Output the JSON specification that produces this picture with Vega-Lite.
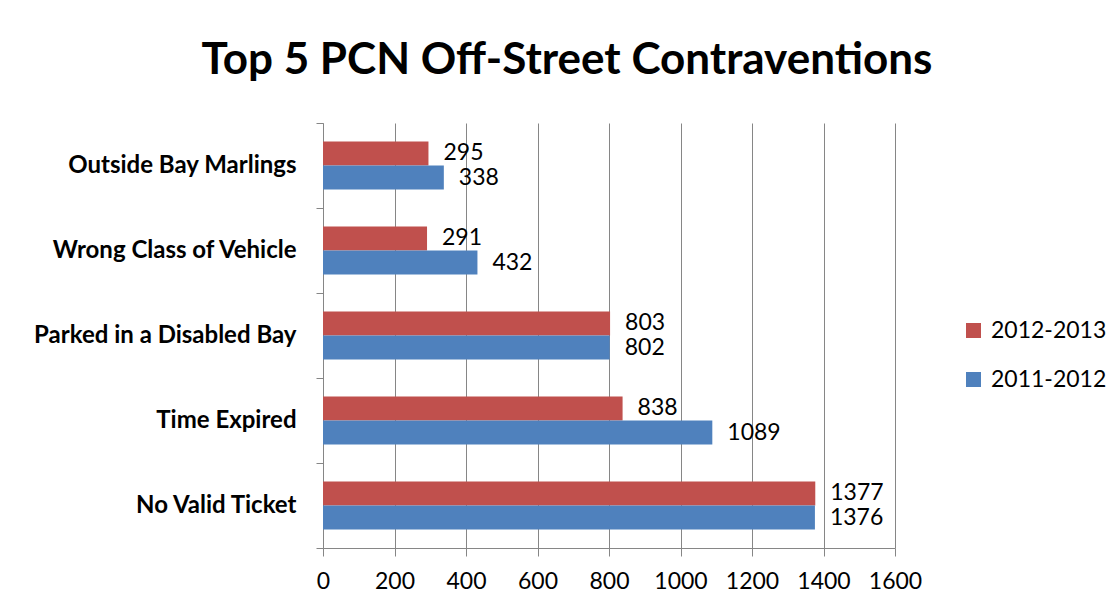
{
  "$schema": "https://vega.github.io/schema/vega-lite/v6.json",
  "width": 572,
  "height": 425,
  "autosize": {"type": "none"},
  "padding": {"left": 323, "top": 123, "right": 225, "bottom": 57},
  "background": "white",
  "title": {
    "text": "Top 5 PCN Off-Street Contraventions",
    "font": "Lato",
    "fontSize": 44,
    "fontWeight": "bold",
    "color": "black",
    "anchor": "middle",
    "frame": "group",
    "dx": -42,
    "offset": 28
  },
  "data": {
    "values": [
      {"category": "Outside Bay Marlings", "period": "2012-2013", "count": 295},
      {"category": "Outside Bay Marlings", "period": "2011-2012", "count": 338},
      {"category": "Wrong Class of Vehicle", "period": "2012-2013", "count": 291},
      {"category": "Wrong Class of Vehicle", "period": "2011-2012", "count": 432},
      {"category": "Parked in a Disabled Bay", "period": "2012-2013", "count": 803},
      {"category": "Parked in a Disabled Bay", "period": "2011-2012", "count": 802},
      {"category": "Time Expired", "period": "2012-2013", "count": 838},
      {"category": "Time Expired", "period": "2011-2012", "count": 1089},
      {"category": "No Valid Ticket", "period": "2012-2013", "count": 1377},
      {"category": "No Valid Ticket", "period": "2011-2012", "count": 1376}
    ]
  },
  "encoding": {
    "y": {
      "field": "category",
      "type": "nominal",
      "sort": ["Outside Bay Marlings", "Wrong Class of Vehicle", "Parked in a Disabled Bay", "Time Expired", "No Valid Ticket"],
      "scale": {"paddingInner": 0, "paddingOuter": 0},
      "axis": {
        "title": null,
        "domainColor": "#868686",
        "tickColor": "#868686",
        "tickSize": 7,
        "labelFont": "Lato",
        "labelFontSize": 24,
        "labelFontWeight": "bold",
        "labelColor": "black",
        "labelPadding": 20,
        "labelLimit": 400,
        "bandPosition": 1,
        "tickExtra": true,
        "grid": false
      }
    },
    "yOffset": {
      "field": "period",
      "type": "nominal",
      "sort": ["2012-2013", "2011-2012"],
      "scale": {"paddingInner": 0, "paddingOuter": 0.77}
    },
    "x": {
      "field": "count",
      "type": "quantitative",
      "scale": {"domain": [0, 1600], "nice": false},
      "axis": {
        "title": null,
        "values": [0, 200, 400, 600, 800, 1000, 1200, 1400, 1600],
        "format": "d",
        "grid": true,
        "gridColor": "#868686",
        "gridOpacity": 1,
        "domainColor": "#868686",
        "tickColor": "#868686",
        "tickSize": 8,
        "labelFont": "Lato",
        "labelFontSize": 23,
        "labelColor": "black",
        "labelPadding": 14,
        "labelFlush": false
      }
    }
  },
  "layer": [
    {
      "mark": {"type": "bar"},
      "encoding": {
        "color": {
          "field": "period",
          "type": "nominal",
          "scale": {"domain": ["2012-2013", "2011-2012"], "range": ["#C0504D", "#4F81BD"]},
          "legend": {
            "title": null,
            "orient": "none",
            "legendX": 639,
            "legendY": 196,
            "padding": 0,
            "symbolType": "square",
            "symbolSize": 225,
            "symbolStrokeWidth": 0,
            "labelFont": "Lato",
            "labelFontSize": 23,
            "labelColor": "black",
            "labelOffset": 6,
            "rowPadding": 25
          }
        }
      }
    },
    {
      "mark": {"type": "text", "align": "left", "baseline": "middle", "dx": 15, "font": "Lato", "fontSize": 23, "color": "black"},
      "encoding": {"text": {"field": "count", "type": "quantitative", "format": "d"}}
    }
  ],
  "config": {"view": {"stroke": null}}
}
